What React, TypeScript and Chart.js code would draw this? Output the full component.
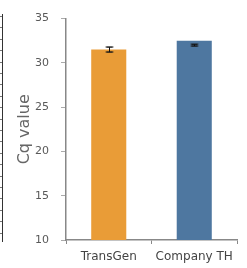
import React, { useEffect, useRef } from "react";
import { Chart, registerables } from "chart.js";

Chart.register(...registerables);

const categories = ["TransGen", "Company TH"];
const cqValues = [31.5, 32.5];
const errCenters = [31.5, 32.0];
const errSizes = [0.28, 0.1];
const barColors = ["#E99C37", "#4E77A0"];
const yTicks = [10, 15, 20, 25, 30, 35];

const errorBarPlugin = {
  id: "errorBars",
  afterDatasetsDraw(chart: any) {
    const ctx = chart.ctx;
    const meta = chart.getDatasetMeta(0);
    const y = chart.scales.y;
    meta.data.forEach((bar: any, i: number) => {
      const x = Math.round(bar.x) + 0.5;
      const top = y.getPixelForValue(errCenters[i] + errSizes[i]);
      const bot = y.getPixelForValue(errCenters[i] - errSizes[i]);
      ctx.save();
      ctx.strokeStyle = "rgba(40,40,40,0.45)";
      ctx.lineWidth = 2;
      ctx.beginPath();
      ctx.moveTo(x - 4, top);
      ctx.lineTo(x + 4, top);
      ctx.moveTo(x - 4, bot);
      ctx.lineTo(x + 4, bot);
      ctx.stroke();
      ctx.strokeStyle = "#111";
      ctx.lineWidth = 1;
      ctx.beginPath();
      ctx.moveTo(x, top);
      ctx.lineTo(x, bot);
      ctx.moveTo(x - 3, top);
      ctx.lineTo(x + 3, top);
      ctx.moveTo(x - 3, bot);
      ctx.lineTo(x + 3, bot);
      ctx.stroke();
      ctx.restore();
    });
  },
};

export default function App() {
  const ref = useRef<HTMLCanvasElement | null>(null);
  useEffect(() => {
    document.body.style.margin = "0";
    if (!ref.current) return;
    const chart = new Chart(ref.current, {
      type: "bar",
      data: {
        labels: categories,
        datasets: [
          {
            data: cqValues,
            backgroundColor: barColors,
            borderWidth: 0,
            barPercentage: 0.41,
            categoryPercentage: 1,
          },
        ],
      },
      options: {
        animation: false,
        responsive: false,
        maintainAspectRatio: false,
        layout: { padding: { top: 16, right: 10, left: 0, bottom: 0 } },
        plugins: { legend: { display: false }, tooltip: { enabled: false } },
        scales: {
          x: {
            grid: {
              drawOnChartArea: false,
              drawTicks: true,
              tickLength: 4,
              color: "#888",
            },
            border: { color: "#888", width: 1.5 },
            ticks: {
              color: "#444",
              font: { family: "DejaVu Sans", size: 12 },
              padding: 6,
              maxRotation: 0,
            },
            afterFit: (s: any) => {
              s.height = 28;
            },
          },
          y: {
            min: 10,
            max: 35,
            afterBuildTicks: (s: any) => {
              s.ticks = yTicks.map((v) => ({ value: v }));
            },
            grid: {
              drawOnChartArea: false,
              drawTicks: true,
              tickLength: 5,
              color: "#aaa",
            },
            border: { color: "#888", width: 1.5 },
            ticks: {
              color: "#595959",
              font: { family: "DejaVu Sans", size: 11 },
              padding: 12,
            },
            title: {
              display: true,
              text: "Cq value",
              color: "#666",
              font: { family: "DejaVu Sans", size: 16 },
              padding: { top: 15, bottom: 0 },
            },
            afterFit: (s: any) => {
              s.width = 66;
            },
          },
        },
      },
      plugins: [errorBarPlugin],
    });
    return () => chart.destroy();
  }, []);
  return (
    <div style={{ position: "relative", width: 247, height: 268 }}>
      <div
        style={{
          position: "absolute",
          left: 2,
          top: 14,
          width: 1,
          height: 228,
          background: "#333",
        }}
      />
      <div
        style={{
          position: "absolute",
          left: 0,
          top: 16,
          width: 2,
          height: 224,
          background:
            "repeating-linear-gradient(to bottom, #777 0px, #777 1px, transparent 1px, transparent 11.4px)",
        }}
      />
      <canvas ref={ref} width={247} height={268} style={{ display: "block" }} />
    </div>
  );
}
